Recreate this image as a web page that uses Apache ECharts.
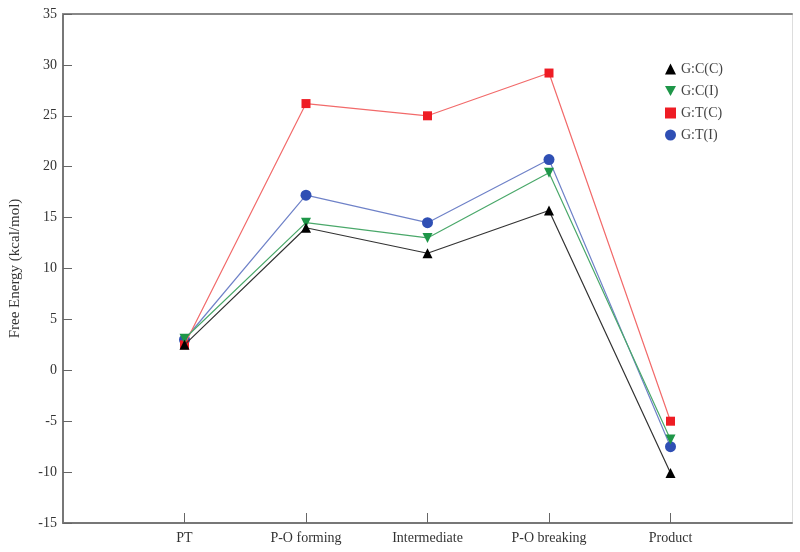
<!DOCTYPE html>
<html>
<head>
<meta charset="utf-8">
<script src="https://cdn.jsdelivr.net/npm/echarts@6/dist/echarts.min.js"></script>
<style>html,body{margin:0;padding:0;background:#fff}#c{width:800px;height:552px}</style>
</head>
<body>
<div id="c"></div>
<script>
const categories = ['PT', 'P-O forming', 'Intermediate', 'P-O breaking', 'Product'];
const seriesNames = ['G:C(C)', 'G:C(I)', 'G:T(C)', 'G:T(I)'];
const gcc = [2.5, 14.0, 11.5, 15.7, -10.1];
const gci = [3.1, 14.5, 13.0, 19.4, -6.8];
const gtc = [2.5, 26.2, 25.0, 29.2, -5.0];
const gti = [3.0, 17.2, 14.5, 20.7, -7.5];
const yTicks = [-15, -10, -5, 0, 5, 10, 15, 20, 25, 30, 35];

const font = 'Liberation Serif';
const colors = ['#000000', '#1e9648', '#ee1c24', '#2f4fb4'];
const lineColors = ['#333333', '#4aa86a', '#f26a6a', '#6f82c8'];
const downTri = 'path://M0,0 L10,0 L5,9 Z';
const symbols = ['triangle', downTri, 'rect', 'circle'];
const sizes = [10, 10, 9, 11];
const allData = [gcc, gci, gtc, gti];
const catPositions = categories.map((c, i) => i + 1);

const series = allData.map((arr, i) => ({
  name: seriesNames[i],
  type: 'line',
  data: arr.map((v, j) => [j + 1, v]),
  symbol: symbols[i],
  symbolSize: sizes[i],
  showSymbol: true,
  itemStyle: { color: colors[i] },
  lineStyle: { color: lineColors[i], width: 1.2 },
  z: 10 - i
}));

const chart = echarts.init(document.getElementById('c'), null, { renderer: 'canvas' });
chart.setOption({
  animation: false,
  backgroundColor: '#fff',
  grid: { left: 63, right: 8, top: 14, bottom: 29, containLabel: false },
  legend: {
    orient: 'vertical',
    left: 660,
    top: 57,
    itemWidth: 11,
    itemHeight: 11,
    itemGap: 8,
    data: seriesNames.map((n, i) => ({ name: n, icon: symbols[i] })),
    textStyle: { fontFamily: font, fontSize: 14, color: '#444' }
  },
  xAxis: [{
    type: 'value',
    min: 0, max: 6, interval: 1,
    axisLine: { onZero: false, lineStyle: { color: '#777', width: 2 } },
    axisTick: { inside: true, length: 10, customValues: catPositions, lineStyle: { color: '#666', width: 1 } },
    splitLine: { show: false },
    axisLabel: {
      fontFamily: font, fontSize: 14, color: '#333', margin: 8,
      customValues: catPositions,
      formatter: v => (v >= 1 && v <= 5) ? categories[v - 1] : ''
    }
  }, {
    type: 'value', position: 'top',
    min: 0, max: 6,
    axisLine: { show: true, onZero: false, lineStyle: { color: '#888', width: 2 } },
    axisTick: { show: false }, axisLabel: { show: false }, splitLine: { show: false }
  }],
  yAxis: [{
    type: 'value',
    min: yTicks[0], max: yTicks[yTicks.length - 1], interval: 5,
    name: 'Free Energy (kcal/mol)',
    nameLocation: 'middle',
    nameGap: 40,
    nameTextStyle: { fontFamily: font, fontSize: 15, color: '#333' },
    axisLine: { onZero: false, lineStyle: { color: '#777', width: 2 } },
    axisTick: { inside: true, length: 9, lineStyle: { color: '#666', width: 1 } },
    splitLine: { show: false },
    axisLabel: { fontFamily: font, fontSize: 14, color: '#333', margin: 6 }
  }, {
    type: 'value', position: 'right',
    min: yTicks[0], max: yTicks[yTicks.length - 1],
    axisLine: { show: true, onZero: false, lineStyle: { color: '#ddd', width: 1 } },
    axisTick: { show: false }, axisLabel: { show: false }, splitLine: { show: false }
  }],
  series: series
});
</script>
</body>
</html>
